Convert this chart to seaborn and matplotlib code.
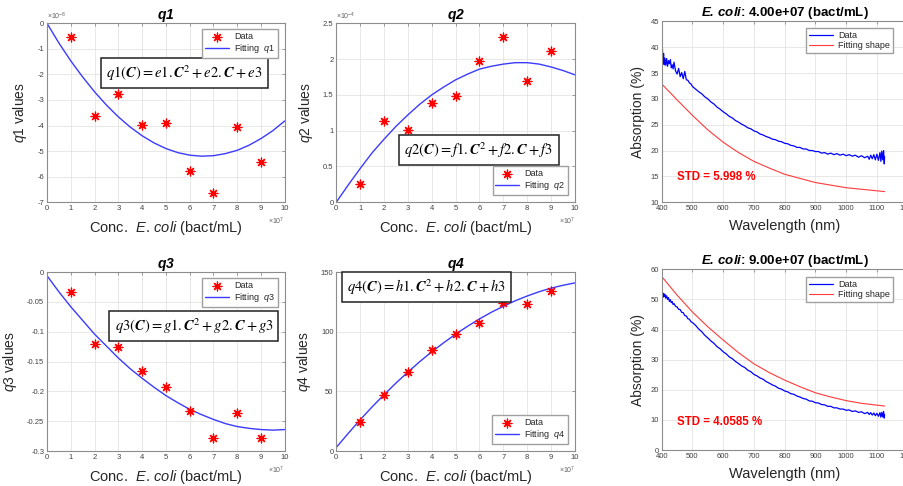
import matplotlib
matplotlib.use("Agg")
import matplotlib.pyplot as plt
import seaborn as sns

# concentrations (x 10^7 bact/mL)
conc = [1, 2, 3, 4, 5, 6, 7, 8, 9]
q1_data = [-0.55, -3.62, -2.77, -3.98, -3.92, -5.78, -6.63, -4.07, -5.42]   # x 10^-8
q2_data = [0.25, 1.13, 1.01, 1.39, 1.49, 1.98, 2.31, 1.70, 2.11]            # x 10^-4
q3_data = [-0.034, -0.120, -0.125, -0.165, -0.193, -0.233, -0.279, -0.236, -0.279]
q4_data = [24.3, 46.6, 66.2, 84.9, 98.3, 107.3, 123.8, 123.3, 134.6]

fit_conc = [0, 0.5, 1, 1.5, 2, 2.5, 3, 3.5, 4, 4.5, 5, 5.5, 6, 6.5, 7, 7.5, 8, 8.5, 9, 9.5, 10]
q1_fit = [0.0, -0.77, -1.47, -2.10, -2.68, -3.20, -3.66, -4.06, -4.40, -4.68, -4.90,
          -5.06, -5.16, -5.20, -5.18, -5.10, -4.97, -4.77, -4.51, -4.20, -3.82]
q2_fit = [0.0, 0.24, 0.47, 0.69, 0.88, 1.06, 1.22, 1.37, 1.50, 1.61, 1.71,
          1.79, 1.86, 1.90, 1.93, 1.95, 1.95, 1.93, 1.89, 1.84, 1.78]
q3_fit = [-0.006, -0.033, -0.058, -0.081, -0.104, -0.124, -0.144, -0.162, -0.178, -0.193, -0.207,
          -0.219, -0.230, -0.239, -0.247, -0.254, -0.259, -0.262, -0.264, -0.265, -0.264]
q4_fit = [3.0, 14.8, 26.2, 37.0, 47.2, 57.0, 66.2, 75.0, 83.2, 90.8, 98.0,
          104.6, 110.8, 116.4, 121.4, 126.0, 130.0, 133.6, 136.6, 139.0, 141.0]

# spectra
wl = [400, 402, 404, 406, 408, 410, 413, 416, 419, 422, 425, 428, 431, 434, 437, 440,
      445, 450, 455, 460, 465, 470, 475, 480, 485, 490, 495, 500,
      510, 520, 530, 540, 550, 560, 570, 580, 590, 600, 610, 620, 630, 640, 650, 660, 670, 680, 690,
      700, 710, 720, 730, 740, 750, 760, 770, 780, 790, 800, 810, 820, 830, 840, 850, 860, 870, 880, 890,
      900, 910, 920, 930, 940, 950, 960, 970, 980, 990, 1000, 1010, 1020, 1030, 1040, 1050, 1060, 1070,
      1075, 1080, 1085, 1090, 1095, 1100, 1105, 1110, 1113, 1116, 1119, 1122, 1124, 1125]
abs_4e7 = [38.4, 40.2, 36.9, 38.8, 36.6, 37.9, 36.5, 37.8, 36.3, 37.4, 36.8, 37.6, 36.0, 36.6, 35.8, 37.1,
           35.4, 34.8, 35.9, 34.3, 35.1, 33.9, 35.3, 33.7, 33.6, 33.1, 32.9, 32.4,
           31.9, 31.4, 31.0, 30.4, 30.0, 29.4, 29.0, 28.4, 28.0, 27.5, 27.1, 26.6, 26.3, 25.8, 25.5, 25.1, 24.8, 24.4, 24.2,
           23.8, 23.6, 23.2, 23.0, 22.7, 22.5, 22.2, 22.1, 21.8, 21.7, 21.4, 21.3, 21.0, 20.9, 20.6, 20.6, 20.3, 20.3, 20.0, 20.0,
           19.8, 19.8, 19.5, 19.6, 19.3, 19.5, 19.2, 19.4, 19.1, 19.3, 19.0, 19.2, 18.9, 19.1, 18.7, 19.0, 18.6, 18.9,
           18.3, 19.1, 18.4, 19.2, 18.2, 19.3, 18.1, 19.6, 17.9, 19.9, 18.2, 20.0, 17.4, 18.8]
abs_9e7 = [51.6, 52.4, 50.7, 52.0, 50.9, 51.7, 50.4, 51.2, 50.0, 50.6, 49.3, 49.9, 48.9, 49.3, 48.3, 48.6,
           47.7, 47.5, 46.7, 46.6, 45.7, 45.6, 44.6, 44.5, 43.6, 43.4, 42.6, 42.3,
           41.4, 40.2, 39.3, 38.1, 37.2, 36.2, 35.4, 34.3, 33.6, 32.6, 31.9, 30.9, 30.3, 29.4, 28.7, 27.9, 27.4, 26.5, 26.0,
           25.1, 24.6, 23.9, 23.5, 22.7, 22.2, 21.6, 21.2, 20.5, 20.2, 19.6, 19.3, 18.7, 18.5, 17.9, 17.6, 17.1, 16.9, 16.3, 16.2,
           15.7, 15.6, 15.1, 15.0, 14.5, 14.5, 14.0, 14.0, 13.6, 13.6, 13.2, 13.3, 12.8, 13.0, 12.5, 12.7, 12.1, 12.5,
           11.8, 12.4, 11.6, 12.3, 11.4, 12.2, 11.2, 12.4, 10.9, 12.5, 11.0, 12.8, 10.6, 11.8]
wl_fit = [400, 450, 500, 550, 600, 650, 700, 750, 800, 850, 900, 950, 1000, 1050, 1100, 1125]
shape_4e7 = [32.9, 29.8, 26.8, 24.0, 21.6, 19.6, 17.9, 16.6, 15.4, 14.6, 13.8, 13.3, 12.8, 12.5, 12.2, 12.05]
shape_9e7 = [57.6, 51.4, 45.8, 40.9, 36.5, 32.3, 28.6, 25.7, 23.2, 21.0, 19.0, 17.6, 16.4, 15.5, 14.9, 14.6]

sns.set_style("white")
plt.rcParams['font.family'] = ['Liberation Sans', 'DejaVu Sans']
plt.rcParams['axes.unicode_minus'] = False
plt.rcParams['mathtext.fontset'] = 'custom'
plt.rcParams['mathtext.rm'] = 'Liberation Sans'
plt.rcParams['mathtext.it'] = 'Liberation Sans:italic'
plt.rcParams['mathtext.bf'] = 'Liberation Sans:bold'
plt.rcParams['mathtext.bfit'] = 'Liberation Sans:italic:bold'

TXT = '#262626'
ECOLI = r'$\mathit{E.\,coli}$'


def style(ax):
    ax.grid(True, color='#e4e4e4', lw=0.6)
    for sp in ax.spines.values():
        sp.set_color('#8c8c8c')
        sp.set_linewidth(0.8)
    ax.tick_params(direction='in', length=2.5, width=0.6, colors='#8c8c8c',
                   labelcolor='#404040', labelsize=5.5, top=True, right=True, pad=2)
    ax.yaxis.set_major_formatter(plt.FormatStrFormatter('%g'))
    ax.xaxis.set_major_formatter(plt.FormatStrFormatter('%g'))


def q_panel(ax, data, fit, name, ylim, yticks, eq, eq_xy, leg_loc, leg_xy, yexp=None):
    sns.scatterplot(x=conc, y=data, marker=(8, 2, 0), color='red', s=40, linewidth=0.9,
                    label='Data', ax=ax, zorder=3)
    sns.lineplot(x=fit_conc, y=fit, color='#3b3bff', lw=1.0, sort=False, estimator=None,
                 label=r'Fitting  $\mathit{' + name + '}$', ax=ax)
    ax.set_xlim(0, 10)
    ax.set_xticks(range(0, 11))
    ax.set_ylim(*ylim)
    ax.set_yticks(yticks)
    style(ax)
    ax.set_title(r'$\mathbfit{' + name + '}$', fontsize=10, pad=3, color='black')
    ax.set_xlabel('Conc.  ' + ECOLI + ' (bact/mL)', fontsize=10.5, color=TXT, labelpad=5)
    ax.set_ylabel(r'$\mathit{' + name + '}$ values', fontsize=10, color=TXT, labelpad=6)
    ax.text(1.0, -0.075, r'$\times10^{7}$', transform=ax.transAxes, ha='right', va='top',
            fontsize=5, color='#606060')
    if yexp:
        ax.text(0.0, 1.005, r'$\times10^{' + yexp + '}$', transform=ax.transAxes, ha='left',
                va='bottom', fontsize=5, color='#606060')
    ax.text(eq_xy[0], eq_xy[1], eq, transform=ax.transAxes, ha='center', va='center',
            fontsize=10.5, math_fontfamily='stix', color='black',
            bbox=dict(boxstyle='square,pad=0.35', fc='white', ec='#222222', lw=1.1))
    ax.legend(loc=leg_loc, bbox_to_anchor=leg_xy, borderaxespad=0, fontsize=6.5,
              fancybox=False, edgecolor='#a0a0a0', framealpha=1, handlelength=2.6,
              borderpad=0.3, labelspacing=0.15, handletextpad=0.6)


def spec_panel(ax, data, shape, ylim, yticks, title, std, std_y, leg_xy):
    sns.lineplot(x=wl, y=data, color='#0000ff', lw=0.9, sort=False, estimator=None,
                 label='Data', ax=ax)
    sns.lineplot(x=wl_fit, y=shape, color='#ff3b3b', lw=0.8, sort=False, estimator=None,
                 label='Fitting shape', ax=ax)
    ax.set_xlim(400, 1200)
    ax.set_xticks(range(400, 1201, 100))
    ax.set_ylim(*ylim)
    ax.set_yticks(yticks)
    style(ax)
    ax.set_title(r'$\mathbfit{E.\,coli}$: ' + title + ' (bact/mL)', fontsize=9.5,
                 fontweight='bold', pad=4, color='black')
    ax.set_xlabel('Wavelength (nm)', fontsize=10.5, color=TXT, labelpad=5)
    ax.set_ylabel('Absorption (%)', fontsize=10, color=TXT, labelpad=4)
    ax.text(0.061, std_y, 'STD = ' + std + ' %', transform=ax.transAxes, ha='left',
            va='center', fontsize=8.3, fontweight='bold', color='red')
    ax.legend(loc='upper right', bbox_to_anchor=leg_xy, borderaxespad=0, fontsize=6.5,
              fancybox=False, edgecolor='#a0a0a0', framealpha=1, handlelength=2.6,
              borderpad=0.3, labelspacing=0.15, handletextpad=0.6)


fig = plt.figure(figsize=(9.04, 4.86), dpi=100)
ax1 = fig.add_axes([0.052, 0.584, 0.263, 0.368])
ax2 = fig.add_axes([0.372, 0.584, 0.264, 0.368])
ax3 = fig.add_axes([0.732, 0.584, 0.272, 0.372])
ax4 = fig.add_axes([0.052, 0.072, 0.263, 0.368])
ax5 = fig.add_axes([0.372, 0.072, 0.264, 0.368])
ax6 = fig.add_axes([0.732, 0.074, 0.272, 0.372])

B = r'\boldsymbol{C}'
q_panel(ax1, q1_data, q1_fit, 'q1', (-7, 0), range(-7, 1),
        r'$q1(' + B + ') = e1.' + B + '^2 + e2.' + B + ' + e3$', (0.578, 0.721),
        'upper right', (0.971, 0.966), yexp='-8')
q_panel(ax2, q2_data, q2_fit, 'q2', (0, 2.5), [0, 0.5, 1, 1.5, 2, 2.5],
        r'$q2(' + B + ') = f1.' + B + '^2 + f2.' + B + ' + f3$', (0.598, 0.291),
        'lower right', (0.971, 0.039), yexp='-4')
q_panel(ax4, q3_data, q3_fit, 'q3', (-0.3, 0), [-0.3, -0.25, -0.2, -0.15, -0.1, -0.05, 0],
        r'$q3(' + B + ') = g1.' + B + '^2 + g2.' + B + ' + g3$', (0.618, 0.698),
        'upper right', (0.971, 0.966))
q_panel(ax5, q4_data, q4_fit, 'q4', (0, 150), [0, 50, 100, 150],
        r'$q4(' + B + ') = h1.' + B + '^2 + h2.' + B + ' + h3$', (0.377, 0.916),
        'lower right', (0.971, 0.039))
spec_panel(ax3, abs_4e7, shape_4e7, (10, 45), range(10, 46, 5), '4.00e+07', '5.998', 0.138,
           (0.939, 0.961))
spec_panel(ax6, abs_9e7, shape_9e7, (0, 60), range(0, 61, 10), '9.00e+07', '4.0585', 0.155,
           (0.939, 0.956))

fig.savefig('out.png', dpi=100, facecolor='white')
